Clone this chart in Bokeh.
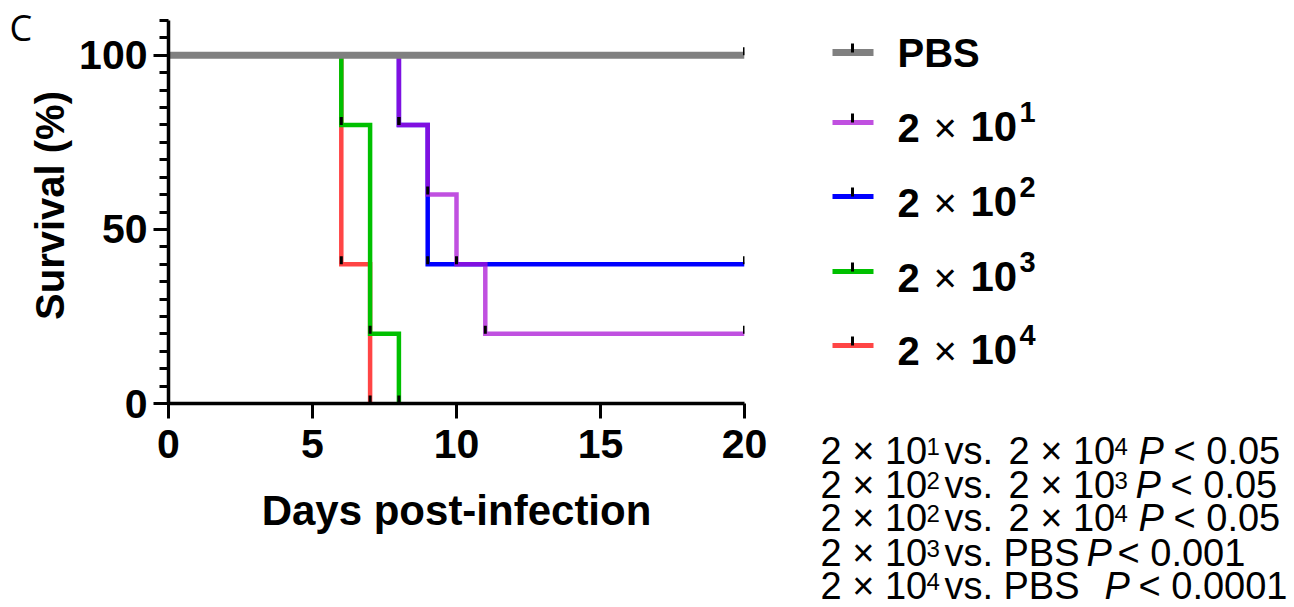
import math
from bokeh.plotting import figure
from bokeh.models import Range1d, FixedTicker
from bokeh.layouts import row, column
from bokeh.embed import file_html
from bokeh.resources import INLINE
from bokeh.core.properties import value

# ---------------- data ----------------
pbs_days = [0, 20]
pbs_surv = [100, 100]
d1_days = [0, 8, 9, 10, 11, 20]          # 2 x 10^1
d1_surv = [100, 80, 60, 40, 20, 20]
d2_days = [0, 8, 9, 20]                  # 2 x 10^2
d2_surv = [100, 80, 40, 40]
d3_days = [0, 6, 7, 8]                   # 2 x 10^3
d3_surv = [100, 80, 20, 0]
d4_days = [0, 6, 7]                      # 2 x 10^4
d4_surv = [100, 40, 0]

x_ticks = [0, 5, 10, 15, 20]
y_ticks = [0, 50, 100]
y_minor = list(range(0, 111, 5))
x_title = "Days post-infection"
y_title = "Survival (%)"
panel_letter = "C"

legend_base = ["PBS", "2", "2", "2", "2"]
legend_exp = ["", "1", "2", "3", "4"]

cmp_left_exp = ["1", "2", "2", "3", "4"]
cmp_right = ["2 × 10", "2 × 10", "2 × 10", "PBS", "PBS"]
cmp_right_exp = ["4", "3", "4", "", ""]
cmp_p = ["< 0.05", "< 0.05", "< 0.05", "< 0.001", "< 0.0001"]

# ---------------- styles / layout ----------------
FONT = "Liberation Sans"
C_GRAY, C_PURP, C_BLUE, C_GREEN, C_RED = "#808080", "#AB15D6", "#0000FF", "#00C000", "#FF4545"
H = 607
W_L = 74          # left strip: panel letter + y title
X_MAIN_END = 808  # right edge of the main figure on the page
BASE_K = 0.37     # baseline correction of text glyphs (fraction of font size)


def bl(y, size):
    return y - BASE_K * size


def page_fig(x0, x1, y0, y1):
    f = figure(width=x1 - x0, height=y1 - y0, x_range=Range1d(x0, x1),
               y_range=Range1d(y1, y0), output_backend="svg", toolbar_location=None,
               x_axis_type=None, y_axis_type=None, min_border_left=0, min_border_right=0,
               min_border_top=0, min_border_bottom=0)
    f.xgrid.visible = False
    f.ygrid.visible = False
    f.outline_line_color = None
    return f


# left strip
sl = page_fig(0, W_L, 0, H)
sl.text(x=[9], y=[bl(40, 36)], text=[panel_letter], text_font=value("Open Sans"),
        text_font_size=value("36px"), text_baseline="alphabetic", text_color="black")
sl.text(x=[49], y=[205], text=[y_title], angle=math.pi / 2, text_font=value(FONT),
        text_font_style="bold", text_font_size=value("40px"), text_align="center",
        text_baseline="middle", text_color="black")

# main survival plot
p = figure(width=X_MAIN_END - W_L, height=H, x_range=Range1d(0, 20), y_range=Range1d(0, 110),
           output_backend="svg", toolbar_location=None,
           min_border_left=168 - W_L, min_border_right=X_MAIN_END - 744, min_border_top=20,
           min_border_bottom=H - 403)
p.xgrid.visible = False
p.ygrid.visible = False
p.outline_line_color = None

series = [
    (d4_days, d4_surv, C_RED, 4.5, 1.0),
    (d3_days, d3_surv, C_GREEN, 4.5, 1.0),
    (d2_days, d2_surv, C_BLUE, 4.5, 1.0),
    (d1_days, d1_surv, C_PURP, 4.5, 0.75),
    (pbs_days, pbs_surv, C_GRAY, 7, 1.0),
]
for xs, ys, c, w, a in series:
    p.step(xs, ys, mode="after", line_color=c, line_width=w, line_alpha=a, line_join="miter")

tick_h = 8 / (383 / 110.0)
tx, ty0, ty1 = [], [], []
for xs, ys, c, w, a in series:
    for xv, yv in zip(xs[1:], ys[1:]):
        tx.append(xv); ty0.append(yv); ty1.append(yv + tick_h)
p.segment(x0=tx, y0=ty0, x1=tx, y1=ty1, line_color="black", line_width=3)

for ax in (p.xaxis[0], p.yaxis[0]):
    ax.axis_line_width = 3.5
    ax.major_tick_line_width = 3
    ax.minor_tick_line_width = 3
    ax.major_tick_out = 15
    ax.major_tick_in = 0
    ax.major_label_text_font = FONT
    ax.major_label_text_font_style = "bold"
    ax.major_label_text_font_size = "41px"
    ax.major_label_text_color = "black"
    ax.axis_label_text_font = FONT
    ax.axis_label_text_font_style = "bold"
    ax.axis_label_text_color = "black"

p.xaxis[0].ticker = FixedTicker(ticks=x_ticks)
p.xaxis[0].minor_tick_line_color = None
p.xaxis[0].axis_label = x_title
p.xaxis[0].axis_label_text_font_size = "42px"
p.xaxis[0].major_label_standoff = 11
p.xaxis[0].axis_label_standoff = 26

p.yaxis[0].ticker = FixedTicker(ticks=y_ticks, minor_ticks=y_minor)
p.yaxis[0].minor_tick_out = 9
p.yaxis[0].minor_tick_in = 0
p.yaxis[0].major_label_standoff = 6

# legend panel
s = page_fig(X_MAIN_END, 1294, 0, 420)
leg_colors = [C_GRAY, C_PURP, C_BLUE, C_GREEN, C_RED]
leg_widths = [7, 5, 5, 5, 5]
leg_alpha = [1, 0.75, 1, 1, 1]
leg_y = [52, 122, 196, 271, 345]
n = len(leg_y)
s.segment(x0=[832] * n, y0=leg_y, x1=[873] * n, y1=leg_y, line_color=leg_colors,
          line_width=leg_widths, line_alpha=leg_alpha)
s.segment(x0=[852] * n, y0=leg_y, x1=[852] * n, y1=[v - 9 for v in leg_y],
          line_color="black", line_width=3)

base_y = [67, 142, 217, 292, 365]
s.text(x=[897] * n, y=[bl(v, 40) for v in base_y], text=legend_base, text_font=value(FONT),
       text_font_style="bold", text_font_size=value("40px"), text_baseline="alphabetic",
       text_color="black")
s.text(x=[933] * 4, y=[bl(v, 40) for v in base_y[1:]], text=["×"] * 4, text_font=value(FONT),
       text_font_size=value("40px"), text_baseline="alphabetic", text_color="black")
s.text(x=[970] * 4, y=[bl(v, 42) for v in base_y[1:]], text=["10"] * 4, text_font=value(FONT),
       text_font_style="bold", text_font_size=value("42px"), text_baseline="alphabetic",
       text_color="black")
s.text(x=[1019] * 4, y=[bl(v - 20, 29) for v in base_y[1:]], text=legend_exp[1:],
       text_font=value(FONT), text_font_style="bold", text_font_size=value("29px"),
       text_baseline="alphabetic", text_color="black")

# statistics panel
t = page_fig(X_MAIN_END, 1294, 420, H)
cmp_y = [465, 499, 532, 567, 600]
m = len(cmp_y)
CS, SS = 38, 24


def ttext(xs, ys, texts, size, style="normal"):
    t.text(x=xs, y=[bl(v, size) for v in ys], text=texts, text_font=value(FONT),
           text_font_style=style, text_font_size=value(f"{size}px"),
           text_baseline="alphabetic", text_color="black")


ttext([820] * m, cmp_y, ["2 × 10"] * m, CS)
ttext([926] * m, [v - 10 for v in cmp_y], cmp_left_exp, SS)
ttext([944] * m, cmp_y, ["vs."] * m, CS)
ttext([1008, 1008, 1008, 1003, 1003], cmp_y, cmp_right, CS)
ttext([1114] * 3, [v - 10 for v in cmp_y[:3]], cmp_right_exp[:3], SS)
ttext([1138, 1135, 1138, 1086, 1104], cmp_y, ["P"] * m, CS, "italic")
ttext([1173, 1170, 1173, 1117, 1138], cmp_y, cmp_p, CS)

layout = row(column(sl), column(p), column(s, t))
open("out.html", "w").write(file_html(layout, INLINE))
